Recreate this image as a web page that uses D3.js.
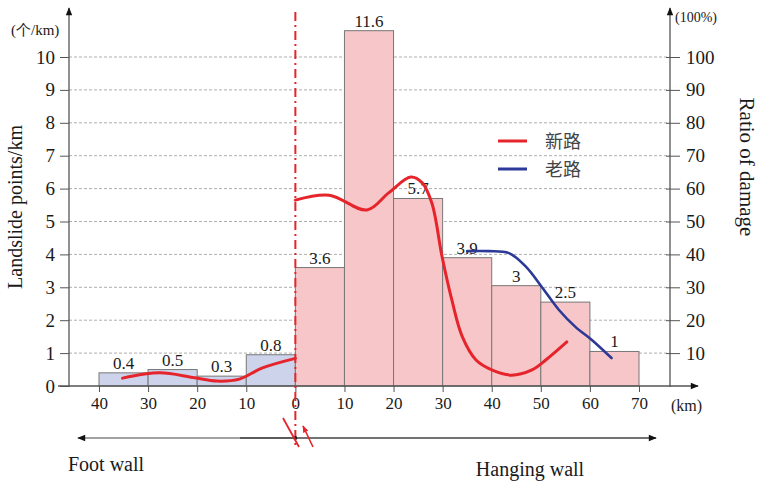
<!DOCTYPE html>
<html lang="en">
<head>
  <meta charset="UTF-8">
  <title>Landslide points and ratio of damage</title>
<style>
    body { margin: 0; background: #fff; }
    #chart { display: block; }
    text { font-family: "Liberation Serif", "DejaVu Serif", serif; fill: #1a1a1a; }
    .cjk { font-family: "Noto Sans CJK SC", sans-serif; }
    .grid line { stroke: #999; stroke-dasharray: 3,2; stroke-width: 0.8; }
  </style>
</head>
<body>
  <svg id="chart" width="761" height="483"></svg>
<script src="https://d3js.org/d3.v7.min.js"></script>
<script>
    // bins of 10 km, negative = foot wall side
    const binStart = [-40, -30, -20, -10, 0, 10, 20, 30, 40, 50, 60];
    const labels = [0.4, 0.5, 0.3, 0.8, 3.6, 11.6, 5.7, 3.9, 3, 2.5, 1];
    // bar heights as drawn in the figure (11.6 is cut short, 0.8 drawn a bit taller)
    const drawnHeights = [0.4, 0.5, 0.3, 0.95, 3.6, 10.8, 5.7, 3.9, 3.05, 2.55, 1.05];

    const xTicks = [-40, -30, -20, -10, 0, 10, 20, 30, 40, 50, 60, 70];
    const yTicks = [0, 1, 2, 3, 4, 5, 6, 7, 8, 9, 10];
    const y2Ticks = [10, 20, 30, 40, 50, 60, 70, 80, 90, 100];

    // ratio of damage (%), new road, [km, %]
    const newRoadFoot = [[-35.2, 2.4], [-27.6, 4.0], [-20.9, 2.6], [-16, 1.5], [-11.4, 2.1], [-6.7, 5.5], [0, 8.4]];
    const newRoadHang = [[0, 56.5], [6.9, 58], [14.6, 53.5], [19, 58.7], [23.5, 63.5], [25.8, 61.8], [27.8, 55.6],
      [29.9, 39.2], [31.9, 26], [34, 15], [36.8, 7.9], [40, 4.9], [44, 3.3], [48.2, 4.9], [51, 7.9], [55.3, 13.4]];
    // old road
    const oldRoad = [[35, 41], [39.4, 41], [43.5, 40.4], [47, 36.2], [50.2, 30.1], [53.7, 23.1], [57.1, 17.9],
      [60.4, 14], [64.4, 8.5]];

    const red = '#e5242b', blue = '#2c3996', axisCol = '#555';

    const svg = d3.select('#chart');

    const x = d3.scaleLinear().domain([-40, 70]).range([99, 639]);
    const y = d3.scaleLinear().domain([0, 10]).range([386, 57]);
    const y2 = d3.scaleLinear().domain([0, 100]).range([386, 57]);
    const axL = 69, axR = 670;

    // arrow markers
    const defs = svg.append('defs');
    defs.append('marker').attr('id', 'arr').attr('viewBox', '0 0 10 10')
      .attr('refX', 9).attr('refY', 5).attr('markerWidth', 10).attr('markerHeight', 8)
      .attr('markerUnits', 'userSpaceOnUse').attr('orient', 'auto')
      .append('path').attr('d', 'M0,1 L10,5 L0,9 Z').attr('fill', '#111');
    defs.append('marker').attr('id', 'arrRed').attr('viewBox', '0 0 10 10')
      .attr('refX', 9).attr('refY', 5).attr('markerWidth', 8).attr('markerHeight', 7)
      .attr('markerUnits', 'userSpaceOnUse').attr('orient', 'auto')
      .append('path').attr('d', 'M0,1 L10,5 L0,9 Z').attr('fill', red);

    // grid
    svg.append('g').attr('class', 'grid')
      .selectAll('line').data(yTicks.filter(d => d > 0)).join('line')
      .attr('x1', axL).attr('x2', axR)
      .attr('y1', d => y(d)).attr('y2', d => y(d));

    // bars
    const bars = binStart.map((s, i) => ({ s, label: labels[i], h: drawnHeights[i] }));
    svg.append('g').selectAll('rect').data(bars).join('rect')
      .attr('x', d => x(d.s))
      .attr('width', d => x(d.s + 10) - x(d.s))
      .attr('y', d => y(d.h))
      .attr('height', d => y(0) - y(d.h))
      .attr('fill', d => d.s < 0 ? '#cdd3ea' : '#f7c6c9')
      .attr('stroke', '#777').attr('stroke-width', 1);

    svg.append('g').selectAll('text').data(bars).join('text')
      .attr('x', d => x(d.s + 5))
      .attr('y', d => y(d.h) - 4)
      .attr('text-anchor', 'middle')
      .style('font-size', '17px')
      .text(d => d.label);

    // left axis
    const gL = svg.append('g').attr('transform', `translate(${axL},0)`)
      .call(d3.axisLeft(y).tickValues(yTicks).tickSize(9).tickPadding(5));
    gL.select('.domain').remove();
    gL.selectAll('line').attr('stroke', axisCol);
    gL.selectAll('text').style('font-size', '19px').attr('font-family', null);
    svg.append('line').attr('x1', axL).attr('x2', axL).attr('y1', 387).attr('y2', 8)
      .attr('stroke', axisCol).attr('stroke-width', 1.3).attr('marker-end', 'url(#arr)');

    // right axis
    const gR = svg.append('g').attr('transform', `translate(${axR},0)`)
      .call(d3.axisRight(y2).tickValues(y2Ticks).tickSize(10).tickPadding(6));
    gR.select('.domain').remove();
    gR.selectAll('.tick line').attr('x1', -4).attr('stroke', axisCol);
    gR.selectAll('text').style('font-size', '19px').attr('font-family', null);
    svg.append('line').attr('x1', axR).attr('x2', axR).attr('y1', 387).attr('y2', 8)
      .attr('stroke', axisCol).attr('stroke-width', 1.3).attr('marker-end', 'url(#arr)');

    // bottom axis
    const gB = svg.append('g').attr('transform', `translate(0,${y(0)})`)
      .call(d3.axisBottom(x).tickValues(xTicks).tickSize(6).tickPadding(5).tickFormat(d => Math.abs(d)));
    gB.select('.domain').remove();
    gB.selectAll('line').attr('stroke', axisCol);
    gB.selectAll('text').style('font-size', '17px').attr('font-family', null);
    svg.append('line').attr('x1', 58).attr('x2', 698).attr('y1', y(0)).attr('y2', y(0))
      .attr('stroke', axisCol).attr('stroke-width', 1.3).attr('marker-end', 'url(#arr)');

    // unit labels
    svg.append('text').attr('x', 11).attr('y', 35).style('font-size', '15px').text('(个/km)');
    svg.append('text').attr('x', 675).attr('y', 22).style('font-size', '14px').text('(100%)');
    svg.append('text').attr('x', 671).attr('y', 411).style('font-size', '16px').text('(km)');

    svg.append('text').attr('transform', 'translate(22,207) rotate(-90)')
      .attr('text-anchor', 'middle').style('font-size', '20px').text('Landslide points/km');
    svg.append('text').attr('transform', 'translate(740,167) rotate(90)')
      .attr('text-anchor', 'middle').style('font-size', '21px').text('Ratio of damage');

    // fault line
    svg.append('line').attr('x1', x(0)).attr('x2', x(0)).attr('y1', 12).attr('y2', 447)
      .attr('stroke', red).attr('stroke-width', 2).attr('stroke-dasharray', '9,4,2,4');

    // curves
    const line = d3.line().x(d => x(d[0])).y(d => y2(d[1])).curve(d3.curveCatmullRom.alpha(0.5));
    [newRoadFoot, newRoadHang].forEach(s => {
      svg.append('path').datum(s).attr('d', line)
        .attr('fill', 'none').attr('stroke', red).attr('stroke-width', 3).attr('stroke-linecap', 'round');
    });
    svg.append('path').datum(oldRoad).attr('d', line)
      .attr('fill', 'none').attr('stroke', blue).attr('stroke-width', 2.6).attr('stroke-linecap', 'round');

    // legend
    const legend = [{ name: '新路', c: red, y: 141 }, { name: '老路', c: blue, y: 169 }];
    const lg = svg.append('g').selectAll('g').data(legend).join('g');
    lg.append('line').attr('x1', 498).attr('x2', 527).attr('y1', d => d.y).attr('y2', d => d.y)
      .attr('stroke', d => d.c).attr('stroke-width', 3);
    lg.append('text').attr('class', 'cjk').attr('x', 545).attr('y', d => d.y + 7)
      .style('font-size', '18px').style('fill', '#444').text(d => d.name);

    // foot wall / hanging wall arrows
    svg.append('line').attr('x1', x(0)).attr('x2', 78).attr('y1', 438).attr('y2', 438)
      .attr('stroke', '#444').attr('stroke-width', 1.2).attr('marker-end', 'url(#arr)');
    svg.append('line').attr('x1', 240).attr('x2', 656).attr('y1', 438).attr('y2', 438)
      .attr('stroke', '#444').attr('stroke-width', 1.6).attr('marker-end', 'url(#arr)');
    svg.append('circle').attr('cx', x(0)).attr('cy', 438).attr('r', 2).attr('fill', '#222');

    // fault symbol
    svg.append('line').attr('x1', 283).attr('y1', 418).attr('x2', 299).attr('y2', 447)
      .attr('stroke', red).attr('stroke-width', 1.8);
    svg.append('line').attr('x1', 313).attr('y1', 447).attr('x2', 303).attr('y2', 426)
      .attr('stroke', red).attr('stroke-width', 1.6).attr('marker-end', 'url(#arrRed)');

    svg.append('text').attr('x', 68).attr('y', 471).style('font-size', '20px').text('Foot wall');
    svg.append('text').attr('x', 530).attr('y', 476).attr('text-anchor', 'middle')
      .style('font-size', '20px').text('Hanging wall');
  </script>
</body>
</html>
